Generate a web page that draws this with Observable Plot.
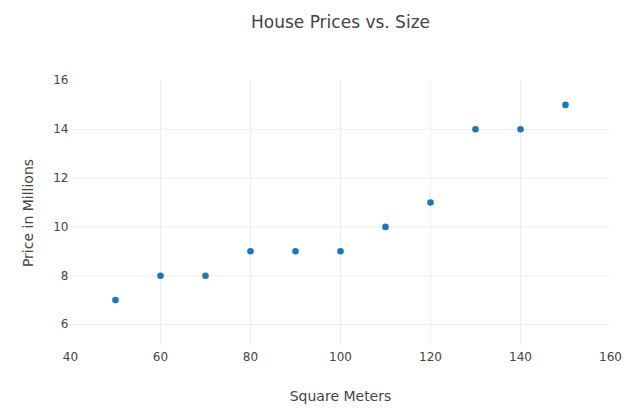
<!DOCTYPE html>
<html>
<head>
<meta charset="utf-8">
<script src="https://cdn.jsdelivr.net/npm/d3@7"></script>
<script src="https://cdn.jsdelivr.net/npm/@observablehq/plot@0.6"></script>
<style>
  html, body { margin: 0; padding: 0; background: #fff; }
</style>
</head>
<body>
<div id="chart"></div>
<script>
const squareMeters = [50, 60, 70, 80, 90, 100, 110, 120, 130, 140, 150];
const priceMillions = [7, 8, 8, 9, 9, 9, 10, 11, 14, 14, 15];
const xTicks = [40, 60, 80, 100, 120, 140, 160];
const yTicks = [6, 8, 10, 12, 14, 16];
const xGrid = [60, 80, 100, 120, 140];
const yGrid = [6, 8, 10, 12, 14];
const title = "House Prices vs. Size";
const xTitle = "Square Meters";
const yTitle = "Price in Millions";

const data = squareMeters.map((x, i) => ({x, y: priceMillions[i]}));
const font = "DejaVu Sans, Verdana, sans-serif";

const chart = Plot.plot({
  width: 638,
  height: 419,
  marginTop: 80,
  marginBottom: 74,
  marginLeft: 70,
  marginRight: 28,
  style: {fontFamily: font, color: "#444", background: "#fff"},
  x: {domain: [40, 160]},
  y: {domain: [5.14, 16]},
  marks: [
    Plot.gridX(xGrid, {stroke: "#eee", strokeOpacity: 1}),
    Plot.gridY(yGrid, {stroke: "#eee", strokeOpacity: 1}),
    Plot.axisX(xTicks, {tickSize: 0, tickPadding: 7, fontSize: 12, fill: "#444", label: null}),
    Plot.axisY(yTicks, {tickSize: 0, tickPadding: 2, fontSize: 12, fill: "#444", label: null}),
    Plot.dot(data, {x: "x", y: "y", r: 3.3, fill: "#1f77b4", stroke: null}),
    Plot.text([title], {frameAnchor: "top", dy: -58, fontSize: 17, fill: "#444", lineAnchor: "middle"}),
    Plot.text([xTitle], {frameAnchor: "bottom", dy: 51, fontSize: 14, fill: "#444", lineAnchor: "middle"}),
    Plot.text([yTitle], {frameAnchor: "left", dx: -42, rotate: -90, fontSize: 14, fill: "#444", textAnchor: "middle", lineAnchor: "middle"})
  ]
});
document.getElementById("chart").appendChild(chart);
</script>
</body>
</html>
